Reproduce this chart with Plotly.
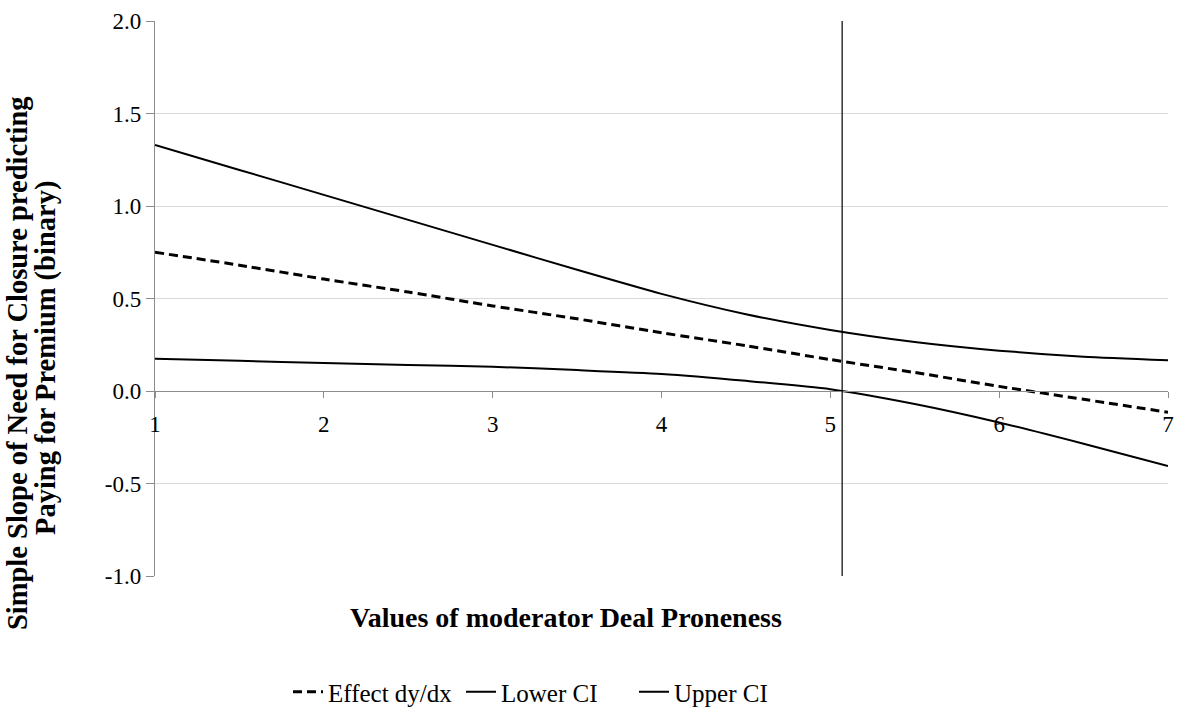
import plotly.graph_objects as go

# Values of moderator (Deal Proneness)
moderator = [1.0, 1.5, 2.0, 2.5, 3.0, 3.5, 4.0, 4.5, 5.0, 5.5, 6.0, 6.5, 7.0]
effect = [0.75, 0.68, 0.605, 0.535, 0.46, 0.39, 0.315, 0.245, 0.17, 0.10, 0.025, -0.045, -0.115]
lower_ci = [0.175, 0.163, 0.151, 0.141, 0.131, 0.113, 0.092, 0.055, 0.01, -0.07, -0.17, -0.285, -0.405]
upper_ci = [1.33, 1.195, 1.06, 0.925, 0.79, 0.655, 0.525, 0.415, 0.33, 0.265, 0.218, 0.185, 0.166]
jn_point = 5.07  # Johnson-Neyman region boundary
x_ticks = [1, 2, 3, 4, 5, 6, 7]
y_ticks = [-1.0, -0.5, 0.0, 0.5, 1.0, 1.5, 2.0]

FONT = "Liberation Serif, Times New Roman, serif"
W, H = 1180, 715
ml, mr, mt, mb = 155, 12, 21, 139
PW, PH = W - ml - mr, H - mt - mb


def px_x(p):
    return (p - ml) / PW


def px_y(p):
    return (H - mb - p) / PH


fig = go.Figure()
fig.add_trace(go.Scatter(x=moderator, y=effect, name="Effect dy/dx", mode="lines",
                         line=dict(color="black", width=3, dash="9px,5px", shape="spline", smoothing=0.6)))
fig.add_trace(go.Scatter(x=moderator, y=lower_ci, name="Lower CI", mode="lines",
                         line=dict(color="black", width=2, shape="spline", smoothing=0.6)))
fig.add_trace(go.Scatter(x=moderator, y=upper_ci, name="Upper CI", mode="lines",
                         line=dict(color="black", width=2, shape="spline", smoothing=0.6)))

fig.add_shape(type="line", xref="x", yref="paper", x0=jn_point, x1=jn_point, y0=0, y1=1,
              line=dict(color="black", width=1.2))

fig.update_layout(
    width=W, height=H,
    margin=dict(l=ml, r=mr, t=mt, b=mb, autoexpand=False),
    paper_bgcolor="white", plot_bgcolor="white",
    font=dict(family=FONT, size=22, color="black"),
    showlegend=True,
    legend=dict(orientation="h", x=px_x(288), xanchor="left", y=px_y(692), yanchor="middle",
                font=dict(family=FONT, size=25, color="black"),
                entrywidth=128, entrywidthmode="pixels",
                tracegroupgap=0, bgcolor="rgba(0,0,0,0)"),
    xaxis=dict(range=[1, 7], tickvals=x_ticks, ticktext=[str(v) for v in x_ticks],
               anchor="free", position=1/3, showgrid=False, zeroline=False,
               showline=True, linecolor="#8c8c8c", linewidth=1.3,
               ticks="outside", ticklen=6, tickcolor="#8c8c8c", tickwidth=1.3,
               ticklabelstandoff=6,
               tickfont=dict(family=FONT, size=23, color="black")),
    yaxis=dict(range=[-1, 2], tickvals=y_ticks, ticktext=[f"{v:.1f}" for v in y_ticks],
               showgrid=True, gridcolor="#d9d9d9", gridwidth=1.3, zeroline=False,
               showline=True, linecolor="#8c8c8c", linewidth=1.3,
               ticks="outside", ticklen=8, tickcolor="#8c8c8c", tickwidth=1.3,
               ticklabelstandoff=0,
               tickfont=dict(family=FONT, size=23, color="black")),
)

fig.add_annotation(text="<b>Simple Slope of Need for Closure predicting</b>",
                   xref="paper", yref="paper", x=px_x(18), y=px_y(363),
                   xanchor="center", yanchor="middle", textangle=-90, showarrow=False,
                   font=dict(family=FONT, size=28.5, color="black"))
fig.add_annotation(text="<b>Paying for Premium (binary)</b>",
                   xref="paper", yref="paper", x=px_x(46), y=px_y(358),
                   xanchor="center", yanchor="middle", textangle=-90, showarrow=False,
                   font=dict(family=FONT, size=28.5, color="black"))
fig.add_annotation(text="<b>Values of moderator Deal Proneness</b>",
                   xref="paper", yref="paper", x=px_x(566), y=px_y(617),
                   xanchor="center", yanchor="middle", showarrow=False,
                   font=dict(family=FONT, size=28, color="black"))

fig.write_html("out.html", config={"displayModeBar": False},
               post_script="document.body.style.margin='0';")
